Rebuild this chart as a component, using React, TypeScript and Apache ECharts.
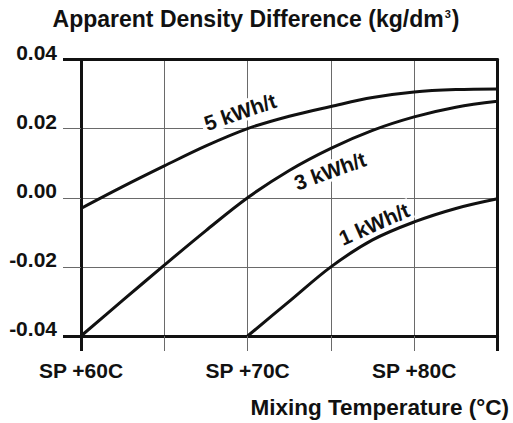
import React, { useEffect, useRef } from 'react';
import * as echarts from 'echarts';

// ---- data ----
const temps = [60, 62.5, 65, 67.5, 70, 72.5, 75, 77.5, 80, 82.5, 85];
const kwh5 = [-0.0031, 0.0032, 0.0092, 0.015, 0.02, 0.0236, 0.0264, 0.029, 0.0306, 0.0313, 0.0315];
const kwh3 = [-0.04, -0.0297, -0.0195, -0.0095, 0.0, 0.0079, 0.0143, 0.0195, 0.0234, 0.0262, 0.0279];
const temps1 = [70, 72.5, 75, 77.5, 80, 82.5, 85];
const kwh1 = [-0.04, -0.03, -0.02, -0.0122, -0.007, -0.0031, -0.0003];
const labelledTemps = [60, 70, 80];
const seriesNames = ['5 kWh/t', '3 kWh/t', '1 kWh/t'];
const titleText = 'Apparent Density Difference (kg/dm';
const titleSup = '3';
const titleEnd = ')';
const xName = 'Mixing Temperature (°C)';

const FONT = '"Liberation Sans", Arial, Helvetica, sans-serif';
const INK = '#111';
const GRID = '#6a6a6a';

export default function App() {
  const ref = useRef<HTMLDivElement>(null);
  useEffect(() => {
    if (!ref.current) return;
    const chart = echarts.init(ref.current, null, { renderer: 'svg' });
    const lineSeries = (name: string, xs: number[], ys: number[]) => ({
      type: 'line',
      name,
      data: xs.map((t, i) => [t, ys[i]]),
      xAxisIndex: 0,
      yAxisIndex: 0,
      smooth: 0.35,
      symbol: 'none',
      showSymbol: false,
      lineStyle: { color: INK, width: 3 },
      z: 5,
    });
    const curveLabel = (text: string, x: number, y: number, deg: number) => ({
      type: 'text',
      x,
      y,
      rotation: (deg * Math.PI) / 180,
      z: 3,
      style: {
        text,
        font: `bold 21px ${FONT}`,
        fill: INK,
        align: 'center',
        textAlign: 'center',
        verticalAlign: 'middle',
        textVerticalAlign: 'middle',
        backgroundColor: '#fff',
        padding: [0, 3],
      },
    });
    const hiddenAxis = {
      axisLabel: { show: false },
      splitLine: { show: false },
    };
    const option: any = {
      animation: false,
      grid: { left: 81, right: 15.5, top: 59.5, bottom: 87 },
      xAxis: [
        {
          type: 'value',
          min: 60,
          max: 85,
          interval: 5,
          position: 'bottom',
          axisLine: { show: true, onZero: false, lineStyle: { color: INK, width: 3 } },
          axisTick: { show: true, length: 15, lineStyle: { color: GRID, width: 1 } },
          axisLabel: {
            formatter: (v: number) => (labelledTemps.includes(v) ? `SP +${v}C` : ''),
            margin: 24,
            fontSize: 21,
            fontWeight: 'bold',
            fontFamily: FONT,
            color: INK,
          },
          splitLine: { show: true, showMinLine: false, showMaxLine: false, lineStyle: { color: GRID, width: 1 } },
        },
        {
          type: 'value',
          min: 0,
          max: 1,
          interval: 1,
          position: 'bottom',
          axisLine: { show: false, onZero: false },
          axisTick: { show: true, length: 15, lineStyle: { color: INK, width: 3 } },
          ...hiddenAxis,
        },
        {
          type: 'value',
          min: 0,
          max: 1,
          interval: 1,
          position: 'top',
          axisLine: { show: true, onZero: false, lineStyle: { color: INK, width: 3 } },
          axisTick: { show: false },
          ...hiddenAxis,
        },
      ],
      yAxis: [
        {
          type: 'value',
          min: -0.04,
          max: 0.04,
          interval: 0.02,
          position: 'left',
          axisLine: { show: true, onZero: false, lineStyle: { color: INK, width: 3 } },
          axisTick: { show: true, length: 18, lineStyle: { color: GRID, width: 1 } },
          axisLabel: {
            formatter: (v: number) => v.toFixed(2),
            margin: 24,
            fontSize: 21,
            fontWeight: 'bold',
            fontFamily: FONT,
            color: INK,
            verticalAlign: 'bottom',
            lineHeight: 15,
          },
          splitLine: { show: true, showMinLine: false, showMaxLine: false, lineStyle: { color: GRID, width: 1 } },
        },
        {
          type: 'value',
          min: 0,
          max: 1,
          interval: 1,
          position: 'left',
          axisLine: { show: false, onZero: false },
          axisTick: { show: true, length: 18, lineStyle: { color: INK, width: 3 } },
          ...hiddenAxis,
        },
        {
          type: 'value',
          min: 0,
          max: 1,
          interval: 1,
          position: 'right',
          axisLine: { show: true, onZero: false, lineStyle: { color: INK, width: 3 } },
          axisTick: { show: false },
          ...hiddenAxis,
        },
      ],
      graphic: [
        {
          type: 'text',
          x: 256,
          y: 19,
          z: 10,
          style: {
            text: `{a|${titleText}}{s|${titleSup}}{a|${titleEnd}}`,
            align: 'center',
            textAlign: 'center',
            verticalAlign: 'middle',
            textVerticalAlign: 'middle',
            rich: {
              a: { fontSize: 23, fontWeight: 'bold', fontFamily: FONT, fill: INK, lineHeight: 26 },
              s: { fontSize: 11, fontWeight: 'bold', fontFamily: FONT, fill: INK, verticalAlign: 'top', padding: [2, 1, 0, 1] },
            },
          },
        },
        {
          type: 'text',
          x: 509,
          y: 396,
          z: 10,
          style: {
            text: xName,
            font: `bold 22.5px ${FONT}`,
            fill: INK,
            align: 'right',
            textAlign: 'right',
            verticalAlign: 'top',
            textVerticalAlign: 'top',
          },
        },
        curveLabel(seriesNames[0], 240, 112, 19),
        curveLabel(seriesNames[1], 330, 171, 20),
        curveLabel(seriesNames[2], 374, 224, 24),
      ],
      series: [
        lineSeries(seriesNames[0], temps, kwh5),
        lineSeries(seriesNames[1], temps, kwh3),
        lineSeries(seriesNames[2], temps1, kwh1),
      ],
    };
    chart.setOption(option);
    return () => chart.dispose();
  }, []);
  return (
    <div
      ref={ref}
      style={{ position: 'absolute', left: 0, top: 0, width: 513, height: 423, background: '#fff' }}
    />
  );
}
